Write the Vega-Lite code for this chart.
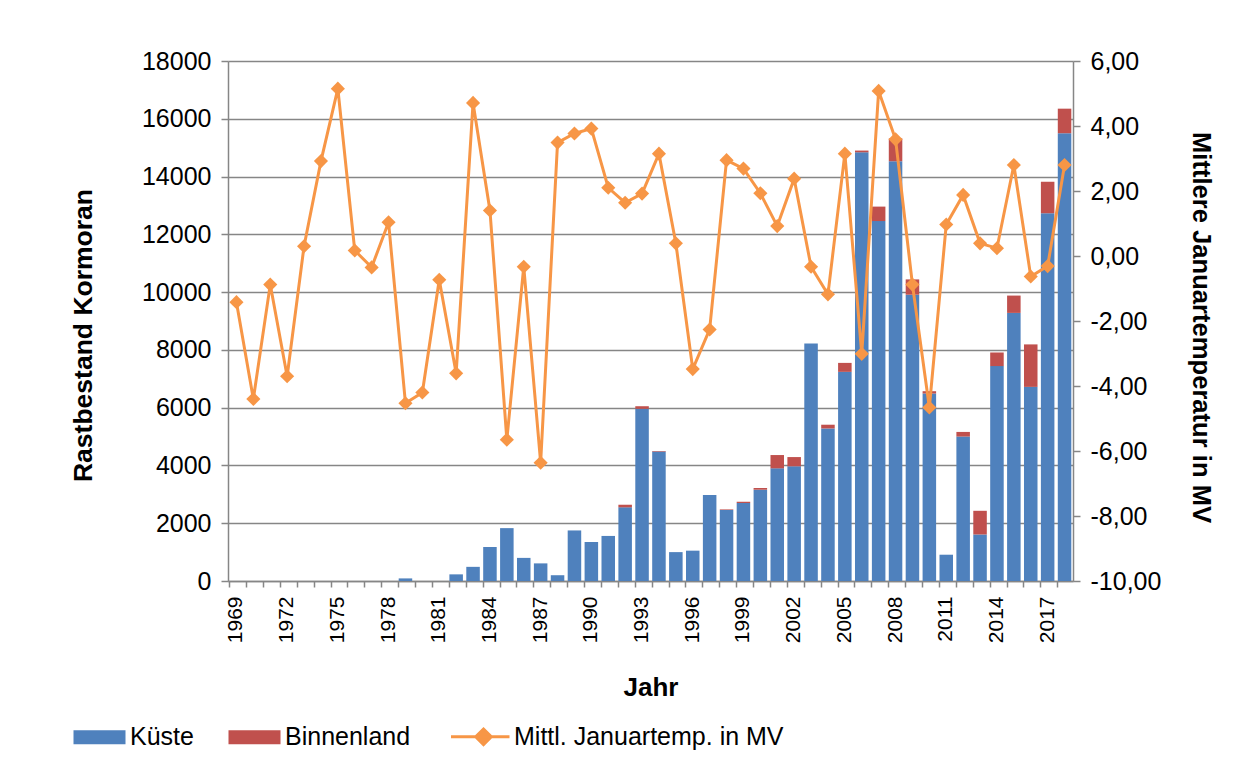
{
  "$schema": "https://vega.github.io/schema/vega-lite/v6.json",
  "width": 845,
  "height": 520,
  "autosize": {"type": "none"},
  "padding": {"left": 228, "top": 61, "right": 163, "bottom": 190},
  "background": "white",
  "config": {
    "font": "Liberation Sans",
    "view": {"stroke": null},
    "axis": {
      "labelFont": "Liberation Sans",
      "titleFont": "Liberation Sans",
      "labelColor": "#000000",
      "titleColor": "#000000",
      "titleFontWeight": "bold",
      "titleFontSize": 26,
      "domainColor": "#868686",
      "tickColor": "#868686",
      "gridColor": "#868686",
      "domainWidth": 1.5,
      "tickWidth": 1.5,
      "gridWidth": 1.5
    },
    "legend": {"labelFont": "Liberation Sans"}
  },
  "data": {
    "values": [
      {"Jahr": 1969, "Küste": 0, "Binnenland": 0, "Temp": -1.42},
      {"Jahr": 1970, "Küste": 0, "Binnenland": 0, "Temp": -4.40},
      {"Jahr": 1971, "Küste": 0, "Binnenland": 0, "Temp": -0.88},
      {"Jahr": 1972, "Küste": 0, "Binnenland": 0, "Temp": -3.70},
      {"Jahr": 1973, "Küste": 0, "Binnenland": 0, "Temp": 0.30},
      {"Jahr": 1974, "Küste": 0, "Binnenland": 0, "Temp": 2.92},
      {"Jahr": 1975, "Küste": 0, "Binnenland": 0, "Temp": 5.15},
      {"Jahr": 1976, "Küste": 0, "Binnenland": 0, "Temp": 0.17},
      {"Jahr": 1977, "Küste": 0, "Binnenland": 0, "Temp": -0.35},
      {"Jahr": 1978, "Küste": 0, "Binnenland": 0, "Temp": 1.04},
      {"Jahr": 1979, "Küste": 90, "Binnenland": 0, "Temp": -4.53},
      {"Jahr": 1980, "Küste": 0, "Binnenland": 0, "Temp": -4.20},
      {"Jahr": 1981, "Küste": 0, "Binnenland": 0, "Temp": -0.73},
      {"Jahr": 1982, "Küste": 230, "Binnenland": 0, "Temp": -3.61},
      {"Jahr": 1983, "Küste": 490, "Binnenland": 0, "Temp": 4.71},
      {"Jahr": 1984, "Küste": 1180, "Binnenland": 0, "Temp": 1.40},
      {"Jahr": 1985, "Küste": 1830, "Binnenland": 0, "Temp": -5.65},
      {"Jahr": 1986, "Küste": 800, "Binnenland": 0, "Temp": -0.33},
      {"Jahr": 1987, "Küste": 610, "Binnenland": 0, "Temp": -6.36},
      {"Jahr": 1988, "Küste": 200, "Binnenland": 0, "Temp": 3.49},
      {"Jahr": 1989, "Küste": 1750, "Binnenland": 0, "Temp": 3.77},
      {"Jahr": 1990, "Küste": 1350, "Binnenland": 0, "Temp": 3.92},
      {"Jahr": 1991, "Küste": 1560, "Binnenland": 0, "Temp": 2.10},
      {"Jahr": 1992, "Küste": 2550, "Binnenland": 90, "Temp": 1.64},
      {"Jahr": 1993, "Küste": 5960, "Binnenland": 90, "Temp": 1.92},
      {"Jahr": 1994, "Küste": 4480, "Binnenland": 20, "Temp": 3.15},
      {"Jahr": 1995, "Küste": 1000, "Binnenland": 0, "Temp": 0.39},
      {"Jahr": 1996, "Küste": 1050, "Binnenland": 0, "Temp": -3.48},
      {"Jahr": 1997, "Küste": 2980, "Binnenland": 0, "Temp": -2.26},
      {"Jahr": 1998, "Küste": 2460, "Binnenland": 20, "Temp": 2.95},
      {"Jahr": 1999, "Küste": 2700, "Binnenland": 40, "Temp": 2.69},
      {"Jahr": 2000, "Küste": 3160, "Binnenland": 60, "Temp": 1.93},
      {"Jahr": 2001, "Küste": 3900, "Binnenland": 460, "Temp": 0.92},
      {"Jahr": 2002, "Küste": 3970, "Binnenland": 320, "Temp": 2.38},
      {"Jahr": 2003, "Küste": 8220, "Binnenland": 0, "Temp": -0.33},
      {"Jahr": 2004, "Küste": 5280, "Binnenland": 130, "Temp": -1.18},
      {"Jahr": 2005, "Küste": 7240, "Binnenland": 310, "Temp": 3.15},
      {"Jahr": 2006, "Küste": 14840, "Binnenland": 60, "Temp": -3.01},
      {"Jahr": 2007, "Küste": 12460, "Binnenland": 500, "Temp": 5.08},
      {"Jahr": 2008, "Küste": 14530, "Binnenland": 790, "Temp": 3.59},
      {"Jahr": 2009, "Küste": 9910, "Binnenland": 530, "Temp": -0.88},
      {"Jahr": 2010, "Küste": 6490, "Binnenland": 80, "Temp": -4.66},
      {"Jahr": 2011, "Küste": 910, "Binnenland": 0, "Temp": 0.97},
      {"Jahr": 2012, "Küste": 5000, "Binnenland": 160, "Temp": 1.88},
      {"Jahr": 2013, "Küste": 1610, "Binnenland": 820, "Temp": 0.39},
      {"Jahr": 2014, "Küste": 7440, "Binnenland": 470, "Temp": 0.24},
      {"Jahr": 2015, "Küste": 9280, "Binnenland": 600, "Temp": 2.80},
      {"Jahr": 2016, "Küste": 6720, "Binnenland": 1470, "Temp": -0.63},
      {"Jahr": 2017, "Küste": 12730, "Binnenland": 1090, "Temp": -0.31},
      {"Jahr": 2018, "Küste": 15500, "Binnenland": 850, "Temp": 2.80}
    ]
  },
  "layer": [
    {
      "transform": [{"fold": ["Küste", "Binnenland"], "as": ["Serie", "Wert"]}],
      "mark": {"type": "bar"},
      "encoding": {
        "x": {
          "field": "Jahr",
          "type": "ordinal",
          "scale": {"paddingInner": 0.2, "paddingOuter": 0.1},
          "axis": {
            "title": "Jahr",
            "labelAngle": 270,
            "labelFontSize": 21,
            "labelExpr": "(datum.value - 1969) % 3 == 0 ? datum.label : ''",
            "bandPosition": 0,
            "labelOffset": 0,
            "tickSize": 6,
            "labelPadding": 9,
            "titlePadding": 32
          }
        },
        "y": {
          "field": "Wert",
          "type": "quantitative",
          "stack": "zero",
          "scale": {"domain": [0, 18000]},
          "axis": {
            "title": "Rastbestand Kormoran",
            "values": [0, 2000, 4000, 6000, 8000, 10000, 12000, 14000, 16000, 18000],
            "format": "d",
            "grid": true,
            "tickSize": 7,
            "labelFontSize": 25,
            "labelPadding": 10,
            "titleFontSize": 26.5,
            "titlePadding": 44,
            "titleY": 274
          }
        },
        "color": {
          "field": "Serie",
          "type": "nominal",
          "scale": {
            "domain": ["Küste", "Binnenland", "Mittl. Januartemp. in MV"],
            "range": ["#4F81BD", "#C0504D", "#F79646"]
          },
          "legend": {
            "title": null,
            "orient": "none",
            "legendX": -141,
            "legendY": 663,
            "direction": "horizontal",
            "labelFontSize": 25,
            "labelColor": "#000000",
            "labelLimit": 0,
            "symbolSize": 2704,
            "labelOffset": 18,
            "columnPadding": 34,
            "encode": {
              "symbols": {
                "update": {
                  "shape": {"signal": "datum.label == 'Mittl. Januartemp. in MV' ? 'M-1.25,0H1M0,-0.3L0.3,0L0,0.3L-0.3,0Z' : 'M-1,-0.27H1V0.27H-1Z'"},
                  "fill": {"signal": "datum.label == 'Küste' ? '#4F81BD' : datum.label == 'Binnenland' ? '#C0504D' : '#F79646'"},
                  "stroke": {"signal": "datum.label == 'Küste' ? '#4F81BD' : datum.label == 'Binnenland' ? '#C0504D' : '#F79646'"},
                  "strokeWidth": {"signal": "datum.label == 'Mittl. Januartemp. in MV' ? 3 : 0"},
                  "opacity": {"value": 1},
                  "fillOpacity": {"value": 1}
                }
              }
            }
          }
        },
        "order": {"field": "Serie", "sort": "descending"}
      }
    },
    {
      "mark": {
        "type": "line",
        "strokeWidth": 3,
        "point": {"shape": "diamond", "size": 200, "filled": true, "opacity": 1}
      },
      "encoding": {
        "x": {"field": "Jahr", "type": "ordinal"},
        "y": {
          "field": "Temp",
          "type": "quantitative",
          "scale": {"domain": [-10, 6]},
          "axis": {
            "orient": "right",
            "title": "Mittlere Januartemperatur in MV",
            "values": [-10, -8, -6, -4, -2, 0, 2, 4, 6],
            "labelExpr": "replace(replace(format(datum.value, '.2f'), '.', ','), '\u2212', '-')",
            "grid": false,
            "tickSize": 7,
            "labelFontSize": 25,
            "labelPadding": 10,
            "titleFontSize": 25.6,
            "titlePadding": 27,
            "titleY": 266
          }
        },
        "color": {"datum": "Mittl. Januartemp. in MV"}
      }
    }
  ],
  "resolve": {"scale": {"y": "independent"}}
}
